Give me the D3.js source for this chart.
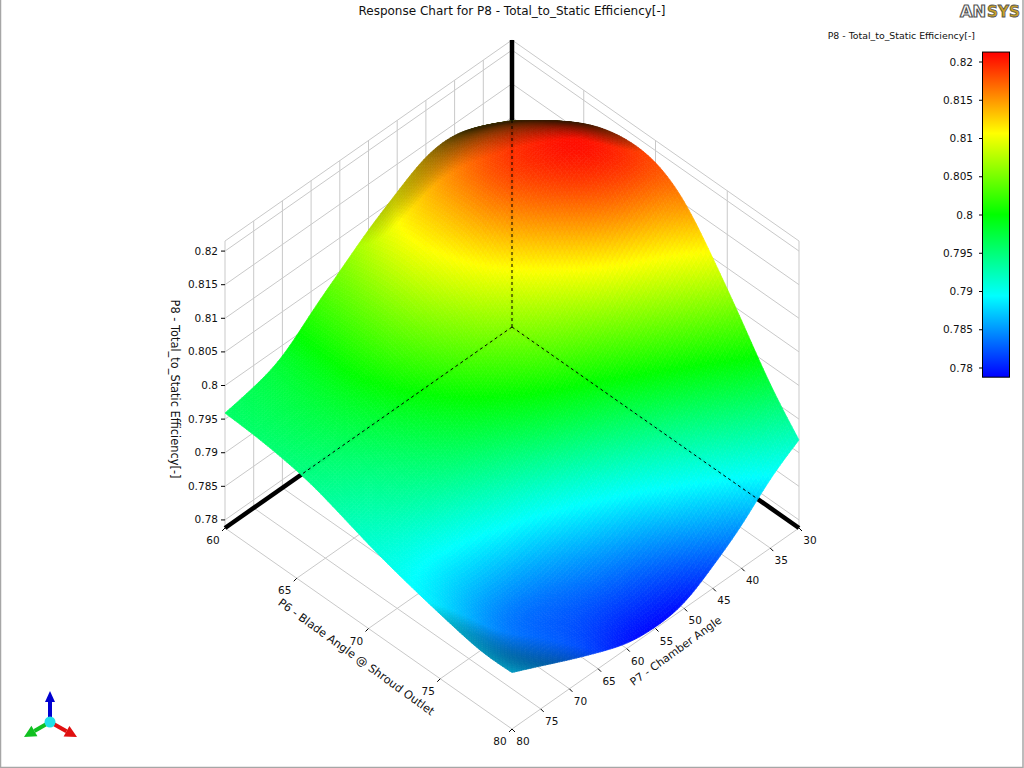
<!DOCTYPE html>
<html>
<head>
<meta charset="utf-8">
<script src="https://cdn.jsdelivr.net/npm/d3@7/dist/d3.min.js"></script>
<style>
html,body{margin:0;padding:0;background:#fff;overflow:hidden}
svg{display:block}
text{font-family:"DejaVu Sans",sans-serif;fill:#111}
</style>
</head>
<body>
<svg id="chart" width="1024" height="768"></svg>
<script>
const chartTitle = "Response Chart for P8 - Total_to_Static Efficiency[-]";
const zTitle = "P8 - Total_to_Static Efficiency[-]";
const p6Title = "P6 - Blade Angle @ Shroud Outlet";
const p7Title = "P7 - Chamber Angle";
const p6Ticks = [60,65,70,75,80];
const p7Ticks = [30,35,40,45,50,55,60,65,70,75,80];
const zTicks = [0.78,0.785,0.79,0.795,0.8,0.805,0.81,0.815,0.82];
const p6Grid = [60,62,64,66,68,70,72,74,76,78,80];
const p7Grid = [30,35,40,45,50,55,60,65,70,75,80];
// rows: P6, columns: P7
const efficiency = [
[.8095,.8118,.8136,.8134,.8108,.8083,.8050,.8019,.7980,.7967,.7959],
[.8125,.8157,.8172,.8164,.8138,.8106,.8057,.8019,.7984,.7969,.7957],
[.8154,.8185,.8194,.8183,.8138,.8104,.8057,.8019,.7984,.7967,.7952],
[.8177,.8209,.8206,.8192,.8134,.8083,.8044,.8006,.7976,.7957,.7944],
[.8188,.8213,.8209,.8151,.8091,.8057,.8019,.7984,.7959,.7940,.7929],
[.8186,.8196,.8155,.8087,.8057,.8019,.7989,.7963,.7942,.7927,.7913],
[.8159,.8117,.8074,.8036,.8006,.7976,.7942,.7920,.7903,.7895,.7900],
[.8100,.8057,.8019,.7980,.7946,.7912,.7888,.7876,.7867,.7873,.7889],
[.8038,.7993,.7955,.7920,.7886,.7865,.7846,.7831,.7830,.7846,.7879],
[.7969,.7940,.7903,.7869,.7839,.7822,.7818,.7822,.7829,.7842,.7870],
[.7919,.7893,.7850,.7821,.7793,.7789,.7794,.7812,.7831,.7852,.7872]];
const zDomain = [0.7788,0.8215];
const rainbow = ["#0000ff","#00ffff","#00ff00","#ffff00","#ff0000"];

const svg = d3.select("#chart");
const uS = d3.scaleLinear().domain([60,80]).range([0,1]);
const vS = d3.scaleLinear().domain([30,80]).range([0,1]);
const wS = d3.scaleLinear().domain(zDomain).range([0,1]);
const colorZ = d3.scaleLinear()
  .domain(d3.range(5).map(i=>0.7788+i*(0.8213-0.7788)/4))
  .range(rainbow).clamp(true);
const ox=512, oy=327, ax=287, ay=201, az=287;
const PX = (u,v)=> ox+ax*(u-v);
const PY = (u,v,w)=> oy+ay*(u+v)-az*w;
const P = (p6,p7,z)=>{const u=uS(p6),v=vS(p7),w=wS(z);return [PX(u,v),PY(u,v,w)];};
const line = d3.line();
const zFloor=zDomain[0], zTop=zDomain[1];

// walls and floor grid
const gridG = svg.append("g").attr("fill","none").attr("stroke","#c9c9c9").attr("stroke-width",1);
const segs = [];
zTicks.concat([zTop]).forEach(z=>{
  segs.push([P(60,80,z),P(60,30,z),P(80,30,z)]);
});
p7Ticks.forEach(p=>{segs.push([P(60,p,zFloor),P(60,p,zTop)]);segs.push([P(60,p,zFloor),P(80,p,zFloor)]);});
p6Ticks.forEach(p=>{segs.push([P(p,30,zFloor),P(p,30,zTop)]);segs.push([P(p,30,zFloor),P(p,80,zFloor)]);});
gridG.selectAll("path").data(segs).join("path").attr("d",d=>line(d));

// thick black axes behind the surface
const axisLines=[[P(60,30,zFloor),P(60,80,zFloor)],[P(60,30,zFloor),P(80,30,zFloor)],[P(60,30,zFloor),P(60,30,zTop)]];
svg.append("g").selectAll("path").data(axisLines).join("path")
  .attr("d",d=>line(d)).attr("stroke","#000").attr("stroke-width",4.5).attr("fill","none");

// surface: the response grid, smoothed for display with d3.interpolateBasis
const N=120;
const rowFns=efficiency.map(r=>d3.interpolateBasis(r));
const W=d3.range(N+1).map(()=>[]);
d3.range(N+1).forEach(b=>{
  const colFn=d3.interpolateBasis(rowFns.map(f=>f(b/N)));
  d3.range(N+1).forEach(a=>{W[a][b]=colFn(a/N);});
});
const quads=[];
for(let a=0;a<N;a++)for(let b=0;b<N;b++){
  const fz=(W[a][b]+W[a+1][b]+W[a][b+1]+W[a+1][b+1])/4;
  const u=(a+.5)/N,v=(b+.5)/N;
  const dwu=(wS(W[a+1][b])+wS(W[a+1][b+1])-wS(W[a][b])-wS(W[a][b+1]))/2*N;
  const dwv=(wS(W[a][b+1])+wS(W[a+1][b+1])-wS(W[a][b])-wS(W[a+1][b]))/2*N;
  const nd=(-0.58*dwu-0.42*dwv+0.7)/Math.sqrt(1+dwu*dwu+dwv*dwv);
  const bright=Math.max(0.22,Math.min(1,0.15+0.85*nd/0.6));
  const c=d3.rgb(colorZ(fz));
  const col=d3.rgb(c.r*bright,c.g*bright,c.b*bright).formatHex();
  const pts=[[a,b],[a+1,b],[a+1,b+1],[a,b+1]].map(([p,q])=>[PX(p/N,q/N),PY(p/N,q/N,wS(W[p][q]))]);
  quads.push({pts,col,depth:0.5*u+0.5*v+0.707*wS(fz)});
}
quads.sort((x,y)=>x.depth-y.depth);
svg.append("g").attr("stroke-width",0.7).attr("stroke-linejoin","round")
  .selectAll("path").data(quads).join("path")
  .attr("d",d=>line(d.pts)+"Z").attr("fill",d=>d.col).attr("stroke",d=>d.col);

// dashed axes over the surface
svg.append("g").selectAll("path").data(axisLines).join("path")
  .attr("d",d=>line(d)).attr("stroke","#000").attr("stroke-width",1).attr("stroke-dasharray","3,3").attr("fill","none");

// z ticks
const zG=svg.append("g");
zTicks.forEach(z=>{
  const [x,y]=P(60,80,z);
  zG.append("line").attr("x1",x-4).attr("x2",x).attr("y1",y).attr("y2",y).attr("stroke","#000");
  zG.append("text").attr("x",x-7).attr("y",y+3.5).attr("text-anchor","end").attr("font-size",10.5).text(z);
});
// P6 ticks
const tG=svg.append("g");
p6Ticks.forEach(p=>{
  const [x,y]=P(p,80,zFloor);
  tG.append("line").attr("x1",x).attr("y1",y).attr("x2",x-3).attr("y2",y+3).attr("stroke","#000");
  tG.append("text").attr("x",x-12).attr("y",y+16).attr("text-anchor","middle").attr("font-size",10.5).text(p);
});
// P7 ticks
p7Ticks.forEach(p=>{
  const [x,y]=P(80,p,zFloor);
  tG.append("line").attr("x1",x).attr("y1",y).attr("x2",x+3).attr("y2",y+3).attr("stroke","#000");
  tG.append("text").attr("x",x+11).attr("y",y+16).attr("text-anchor","middle").attr("font-size",10.5).text(p);
});
// titles
svg.append("text").attr("x",512).attr("y",14.5).attr("text-anchor","middle").attr("font-size",12).text(chartTitle);
svg.append("text").attr("transform","translate(171,389) rotate(90)").attr("text-anchor","middle").attr("font-size",11.4).text(zTitle);
svg.append("text").attr("transform","translate(354,660) rotate(36)").attr("text-anchor","middle").attr("font-size",11.3).text(p6Title);
svg.append("text").attr("transform","translate(678,654) rotate(-36)").attr("text-anchor","middle").attr("font-size",11).text(p7Title);

// legend
const lY=d3.scaleLinear().domain([0.78,0.82]).range([368,62]);
const defs=svg.append("defs");
const grad=defs.append("linearGradient").attr("id","lg").attr("x1",0).attr("x2",0).attr("y1",1).attr("y2",0);
grad.selectAll("stop").data(rainbow).join("stop").attr("offset",(d,i)=>i/4).attr("stop-color",d=>d);
svg.append("rect").attr("x",982.5).attr("y",lY(0.8213)).attr("width",27).attr("height",lY(0.7788)-lY(0.8213))
  .attr("fill","url(#lg)").attr("stroke","#000");
svg.append("text").attr("x",975).attr("y",39).attr("text-anchor","end").attr("font-size",9.4).text(zTitle);
zTicks.forEach(z=>{
  svg.append("line").attr("x1",979).attr("x2",982).attr("y1",lY(z)).attr("y2",lY(z)).attr("stroke","#000");
  svg.append("text").attr("x",973).attr("y",lY(z)+3.5).attr("text-anchor","end").attr("font-size",10.5).text(z);
});

// frame
svg.append("path").attr("d","M0.5,0V767.5H1023V0").attr("fill","none").attr("stroke","#a6a6a6").attr("stroke-width",1.5);

// orientation triad
const tri=svg.append("g");
function arrow(x2,y2,col,hw,hl){
  const x1=50,y1=722,dx=x2-x1,dy=y2-y1,L=Math.hypot(dx,dy),ux=dx/L,uy=dy/L,bx=x2-ux*hl,by=y2-uy*hl;
  tri.append("line").attr("x1",x1).attr("y1",y1).attr("x2",bx).attr("y2",by).attr("stroke",col).attr("stroke-width",4);
  tri.append("path").attr("d",line([[x2,y2],[bx-uy*hw,by+ux*hw],[bx+uy*hw,by-ux*hw]])+"Z").attr("fill",col);
}
arrow(50,691,"#0000d0",5,11);
arrow(24,737,"#10c020",6,12);
arrow(77,737,"#e01010",6,12);
tri.append("circle").attr("cx",50).attr("cy",722).attr("r",5.5).attr("fill","#20e0e8");

// ANSYS logo
const logo=svg.append("g").attr("font-size",16).attr("font-weight","bold");
logo.append("text").attr("x",960).attr("y",17).attr("textLength",26).attr("lengthAdjust","spacingAndGlyphs").style("fill","#fff").attr("stroke","#555").attr("stroke-width",1.2).text("AN");
logo.append("text").attr("x",987).attr("y",17).attr("textLength",33).attr("lengthAdjust","spacingAndGlyphs").style("fill","#c9a227").attr("stroke","#555").attr("stroke-width",0.8).text("SYS");
</script>
</body>
</html>
